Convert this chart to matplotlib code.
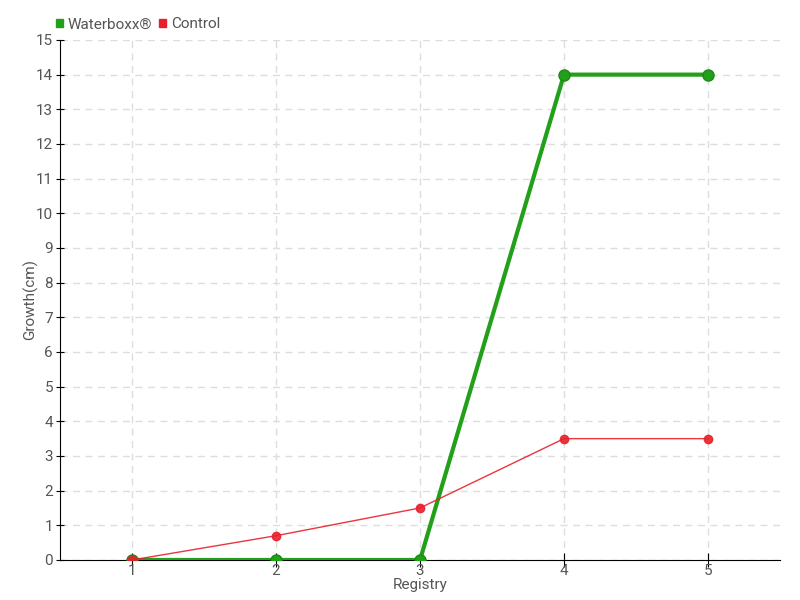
import matplotlib as mpl
mpl.use('Agg')
import matplotlib.pyplot as plt
from matplotlib.patches import Patch

# Data
registry = [1, 2, 3, 4, 5]
waterboxx = [0, 0, 0, 14, 14]
control = [0, 0.7, 1.5, 3.5, 3.5]
series_names = ['Waterboxx®', 'Control']
green = '#22a01a'
red = '#e8202a'
text_grey = '#555555'

plt.rcParams['font.family'] = ['Roboto', 'DejaVu Sans']

fig = plt.figure(figsize=(8, 6), dpi=100)
ax = fig.add_axes([0.075, 0.0667, 0.9, 0.8667])

ax.plot(registry, waterboxx, color=green, lw=3, marker='o', ms=8,
        mec='#1c8a15', zorder=3)
ax.plot(registry, control, color=red, lw=1, alpha=0.9, marker='o', ms=6,
        mfc=red, mec=red, zorder=4)

ax.set_xlim(0.5, 5.5)
ax.set_ylim(0, 15)
ax.set_xticks(registry)
ax.set_yticks(range(0, 16))
ax.grid(True, color='#dddddd', linestyle=(0, (5, 4)), lw=1)
ax.set_axisbelow(True)
for s in ['top', 'right']:
    ax.spines[s].set_visible(False)
ax.tick_params(axis='x', direction='inout', length=10, labelcolor=text_grey, labelsize=11, pad=-2)
ax.tick_params(axis='y', direction='inout', length=6, labelcolor=text_grey, labelsize=11, pad=2)

ax.set_xlabel('Registry', color=text_grey, fontsize=11, labelpad=0)
ax.set_ylabel('Growth(cm)', color=text_grey, fontsize=11)
ax.yaxis.set_label_coords(-0.031, 0.5)

handles = [Patch(color=green), Patch(color=red)]
ax.legend(handles, series_names, loc='lower left', bbox_to_anchor=(-0.025, 0.99),
          ncol=2, frameon=False, handlelength=0.45, handleheight=0.45, handletextpad=0.3,
          columnspacing=0.5, fontsize=11, labelcolor=text_grey)

plt.savefig('out.png', dpi=100)
